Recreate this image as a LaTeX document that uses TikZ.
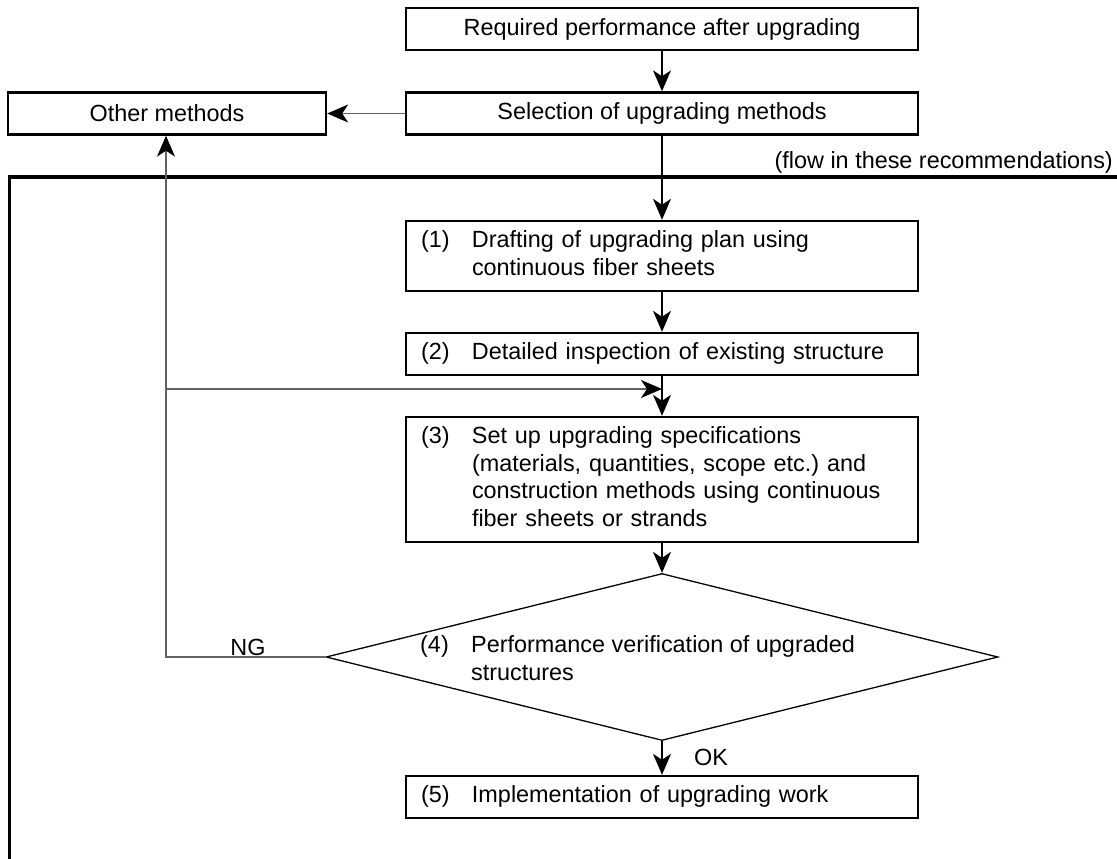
\documentclass[tikz,border=0pt]{standalone}
\usepackage{fontspec}
\setmainfont{Liberation Sans}
\usetikzlibrary{arrows.meta,shapes.geometric}
\frenchspacing
\begin{document}
\begin{tikzpicture}[x=1pt,y=-1pt,
  font=\fontsize{23.4}{27.6}\selectfont,
  box/.style={draw,line width=2.4pt,minimum width=512pt,minimum height=42pt,inner sep=0pt,align=center},
  numbox/.style={box,text width=482pt,align=left},
  conn/.style={line width=1.3pt,-{Stealth[length=21pt,width=18pt,inset=6pt]}},
  gconn/.style={line width=1.4pt,draw=black!62,-{Stealth[length=21pt,width=18pt,inset=6pt,color=black]}},
  lbl/.style={inner sep=0pt}
]
\useasboundingbox (0,0) rectangle (1117,859);

% frame of the recommendations
\draw[line width=3.4pt] (1117,177) -- (9.5,177) -- (9.5,859);
\node[lbl,anchor=east] (flow) at (1113,162) {(flow in these recommendations)};

\node[box] (req) at (662,29) {Required performance after upgrading};
\node[box] (sel) at (662,113.5) {Selection of upgrading methods};
\node[box,minimum width=318pt] (other) at (167,113.5) {Other methods};

\node[numbox,minimum height=70pt] (b1) at (662,256) {\begin{tabular}{@{}p{51pt}@{}l@{}}(1) & Drafting of upgrading plan using\\ & continuous fiber sheets\end{tabular}};
\node[numbox] (b2) at (662,354) {\begin{tabular}{@{}p{51pt}@{}l@{}}(2) & Detailed inspection of existing structure\end{tabular}};
\node[numbox,minimum height=125pt] (b3) at (662,479.5) {\begin{tabular}{@{}p{51pt}@{}l@{}}(3) & Set up upgrading specifications\\ & (materials, quantities, scope etc.) and\\ & construction methods using continuous\\ & fiber sheets or strands\end{tabular}};

\node[diamond,draw,line width=1.3pt,minimum width=672pt,minimum height=167pt,inner sep=0pt] (dia) at (662,657) {};
\node[lbl,anchor=west] (diatext) at (420,661) {\begin{tabular}{@{}p{51pt}@{}l@{}}(4) & Performance verification of upgraded\\ & structures\end{tabular}};

\node[numbox] (b5) at (662,797) {\begin{tabular}{@{}p{51pt}@{}l@{}}(5) & Implementation of upgrading work\end{tabular}};

\node[lbl] (ok) at (711,757) {OK};
\node[lbl] (ng) at (248,647) {NG};

\coordinate (ngc) at (166,657);
\coordinate (hj) at (166,389);

\draw[conn] (req) -- (sel);
\draw[gconn] (sel) -- (other);
\draw[conn] (sel) -- (b1);
\draw[conn] (b1) -- (b2);
\draw[conn] (b2) -- (b3);
\draw[conn] (b3) -- (dia);
\draw[conn] (dia) -- (b5);
\draw[gconn] (dia.west) -- (ngc) -- (ngc |- other.south);
\draw[gconn] (hj) -- (hj -| b2.south);
\end{tikzpicture}
\end{document}
